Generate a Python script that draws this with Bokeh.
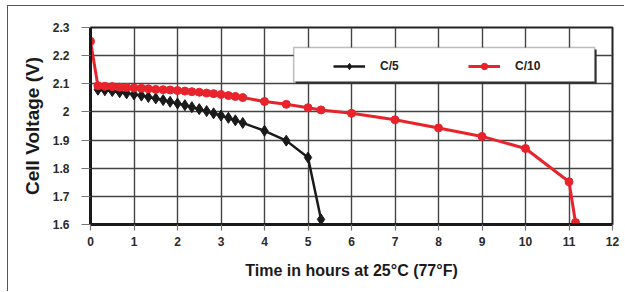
from bokeh.plotting import figure
from bokeh.models import Range1d, FixedTicker, Legend, LegendItem, BoxAnnotation
from bokeh.embed import file_html
from bokeh.resources import INLINE

# ---- data ----
c5_time = [0.17, 0.33, 0.5, 0.67, 0.83, 1.0, 1.17, 1.33, 1.5, 1.67, 1.83, 2.0,
           2.17, 2.33, 2.5, 2.67, 2.83, 3.0, 3.17, 3.33, 3.5, 4.0, 4.5, 5.0, 5.3]
c5_volt = [2.079, 2.077, 2.074, 2.070, 2.066, 2.062, 2.058, 2.053, 2.048, 2.042,
           2.036, 2.030, 2.024, 2.017, 2.010, 2.003, 1.995, 1.987, 1.979, 1.970,
           1.961, 1.933, 1.898, 1.838, 1.618]

c10_time = [0.0, 0.17, 0.33, 0.5, 0.67, 0.83, 1.0, 1.17, 1.33, 1.5, 1.67, 1.83,
            2.0, 2.17, 2.33, 2.5, 2.67, 2.83, 3.0, 3.17, 3.33, 3.5, 4.0, 4.5,
            5.0, 5.3, 6.0, 7.0, 8.0, 9.0, 10.0, 11.0, 11.15]
c10_volt = [2.251, 2.093, 2.091, 2.090, 2.088, 2.087, 2.085, 2.084, 2.082, 2.080,
            2.079, 2.078, 2.076, 2.074, 2.072, 2.070, 2.067, 2.065, 2.062, 2.058,
            2.055, 2.051, 2.037, 2.027, 2.015, 2.007, 1.995, 1.972, 1.943, 1.913,
            1.870, 1.752, 1.607]

x_ticks = list(range(0, 13))
y_ticks = [1.6, 1.7, 1.8, 1.9, 2.0, 2.1, 2.2, 2.3]
y_tick_labels = ["1.6", "1.7", "1.8", "1.9", "2", "2.1", "2.2", "2.3"]

series_labels = ["C/5", "C/10"]
x_title = "Time in hours at 25\u00b0C (77\u00b0F)"
y_title = "Cell Voltage (V)"

# legend frame (in data units)
legend_box = dict(left=4.67, right=11.59, bottom=2.107, top=2.229)

FONT = "Liberation Sans"
RED = "#e8232b"
BLACK = "#1a1a1a"

p = figure(width=617, height=286, output_backend="svg", toolbar_location=None,
           x_range=Range1d(0, 12), y_range=Range1d(1.6, 2.3),
           min_border_left=82, min_border_right=13, min_border_top=21,
           min_border_bottom=68)
p.styles = {"margin-left": "7px", "margin-top": "5px",
            "border-left": "1px solid #555", "border-top": "1px solid #555"}

p.outline_line_color = "#222222"
p.outline_line_width = 2
p.background_fill_color = "white"

# grid
p.xgrid.ticker = FixedTicker(ticks=x_ticks)
p.ygrid.ticker = FixedTicker(ticks=y_ticks)
for g in (p.xgrid, p.ygrid):
    g.grid_line_color = "#444444"
    g.grid_line_width = 1.4

# axes
p.xaxis.ticker = FixedTicker(ticks=x_ticks)
p.yaxis.ticker = FixedTicker(ticks=y_ticks)
p.yaxis.major_label_overrides = {t: l for t, l in zip(y_ticks, y_tick_labels)}
for ax in (p.xaxis, p.yaxis):
    ax.axis_line_color = "#1a1a1a"
    ax.axis_line_width = 3
    ax.major_tick_line_color = "#777777"
    ax.major_tick_line_width = 1.2
    ax.major_tick_in = 0
    ax.minor_tick_line_color = None
    ax.major_label_text_font = FONT
    ax.major_label_text_font_style = "bold"
    ax.major_label_text_font_size = "12px"
    ax.major_label_text_color = "#2a2a2a"
    ax.axis_label_text_font = FONT
    ax.axis_label_text_font_style = "bold"
    ax.axis_label_text_color = "#1a1a1a"

p.xaxis.major_tick_out = 6
p.xaxis.major_label_standoff = 6
p.xaxis.axis_label = x_title
p.xaxis.axis_label_text_font_size = "16px"
p.xaxis.axis_label_standoff = 13

p.yaxis.major_tick_out = 9
p.yaxis.major_label_standoff = 12
p.yaxis.axis_label = y_title
p.yaxis.axis_label_text_font_size = "19px"
p.yaxis.axis_label_standoff = 7

# series
l5 = p.line(c5_time, c5_volt, line_color=BLACK, line_width=2.5)
s5 = p.scatter(c5_time, c5_volt, marker="diamond", size=11, fill_color=BLACK,
               line_color=BLACK)
l10 = p.line(c10_time, c10_volt, line_color=RED, line_width=3)
s10 = p.scatter(c10_time, c10_volt, marker="circle", size=8, fill_color=RED,
                line_color=RED)

# legend frame with shadow
dx, dy = 0.046, 0.007
shadow = BoxAnnotation(left=legend_box["left"] + dx, right=legend_box["right"] + dx,
                       bottom=legend_box["bottom"] - dy, top=legend_box["top"] - dy,
                       fill_color="#333333", fill_alpha=1, line_color=None)
frame = BoxAnnotation(**legend_box, fill_color="white", fill_alpha=1,
                      line_color="#222222", line_width=1.5)
p.add_layout(shadow)
p.add_layout(frame)

legend = Legend(items=[LegendItem(label=series_labels[0], renderers=[l5, s5]),
                       LegendItem(label=series_labels[1], renderers=[l10, s10])],
                orientation="horizontal", location=(238, 145),
                background_fill_alpha=0, border_line_alpha=0,
                glyph_width=32, glyph_height=16, label_standoff=15, spacing=68,
                padding=5, margin=0,
                label_text_font=FONT, label_text_font_style="bold",
                label_text_font_size="12px", label_text_color="#222222")
p.add_layout(legend)

open("out.html", "w").write(file_html(p, INLINE))
